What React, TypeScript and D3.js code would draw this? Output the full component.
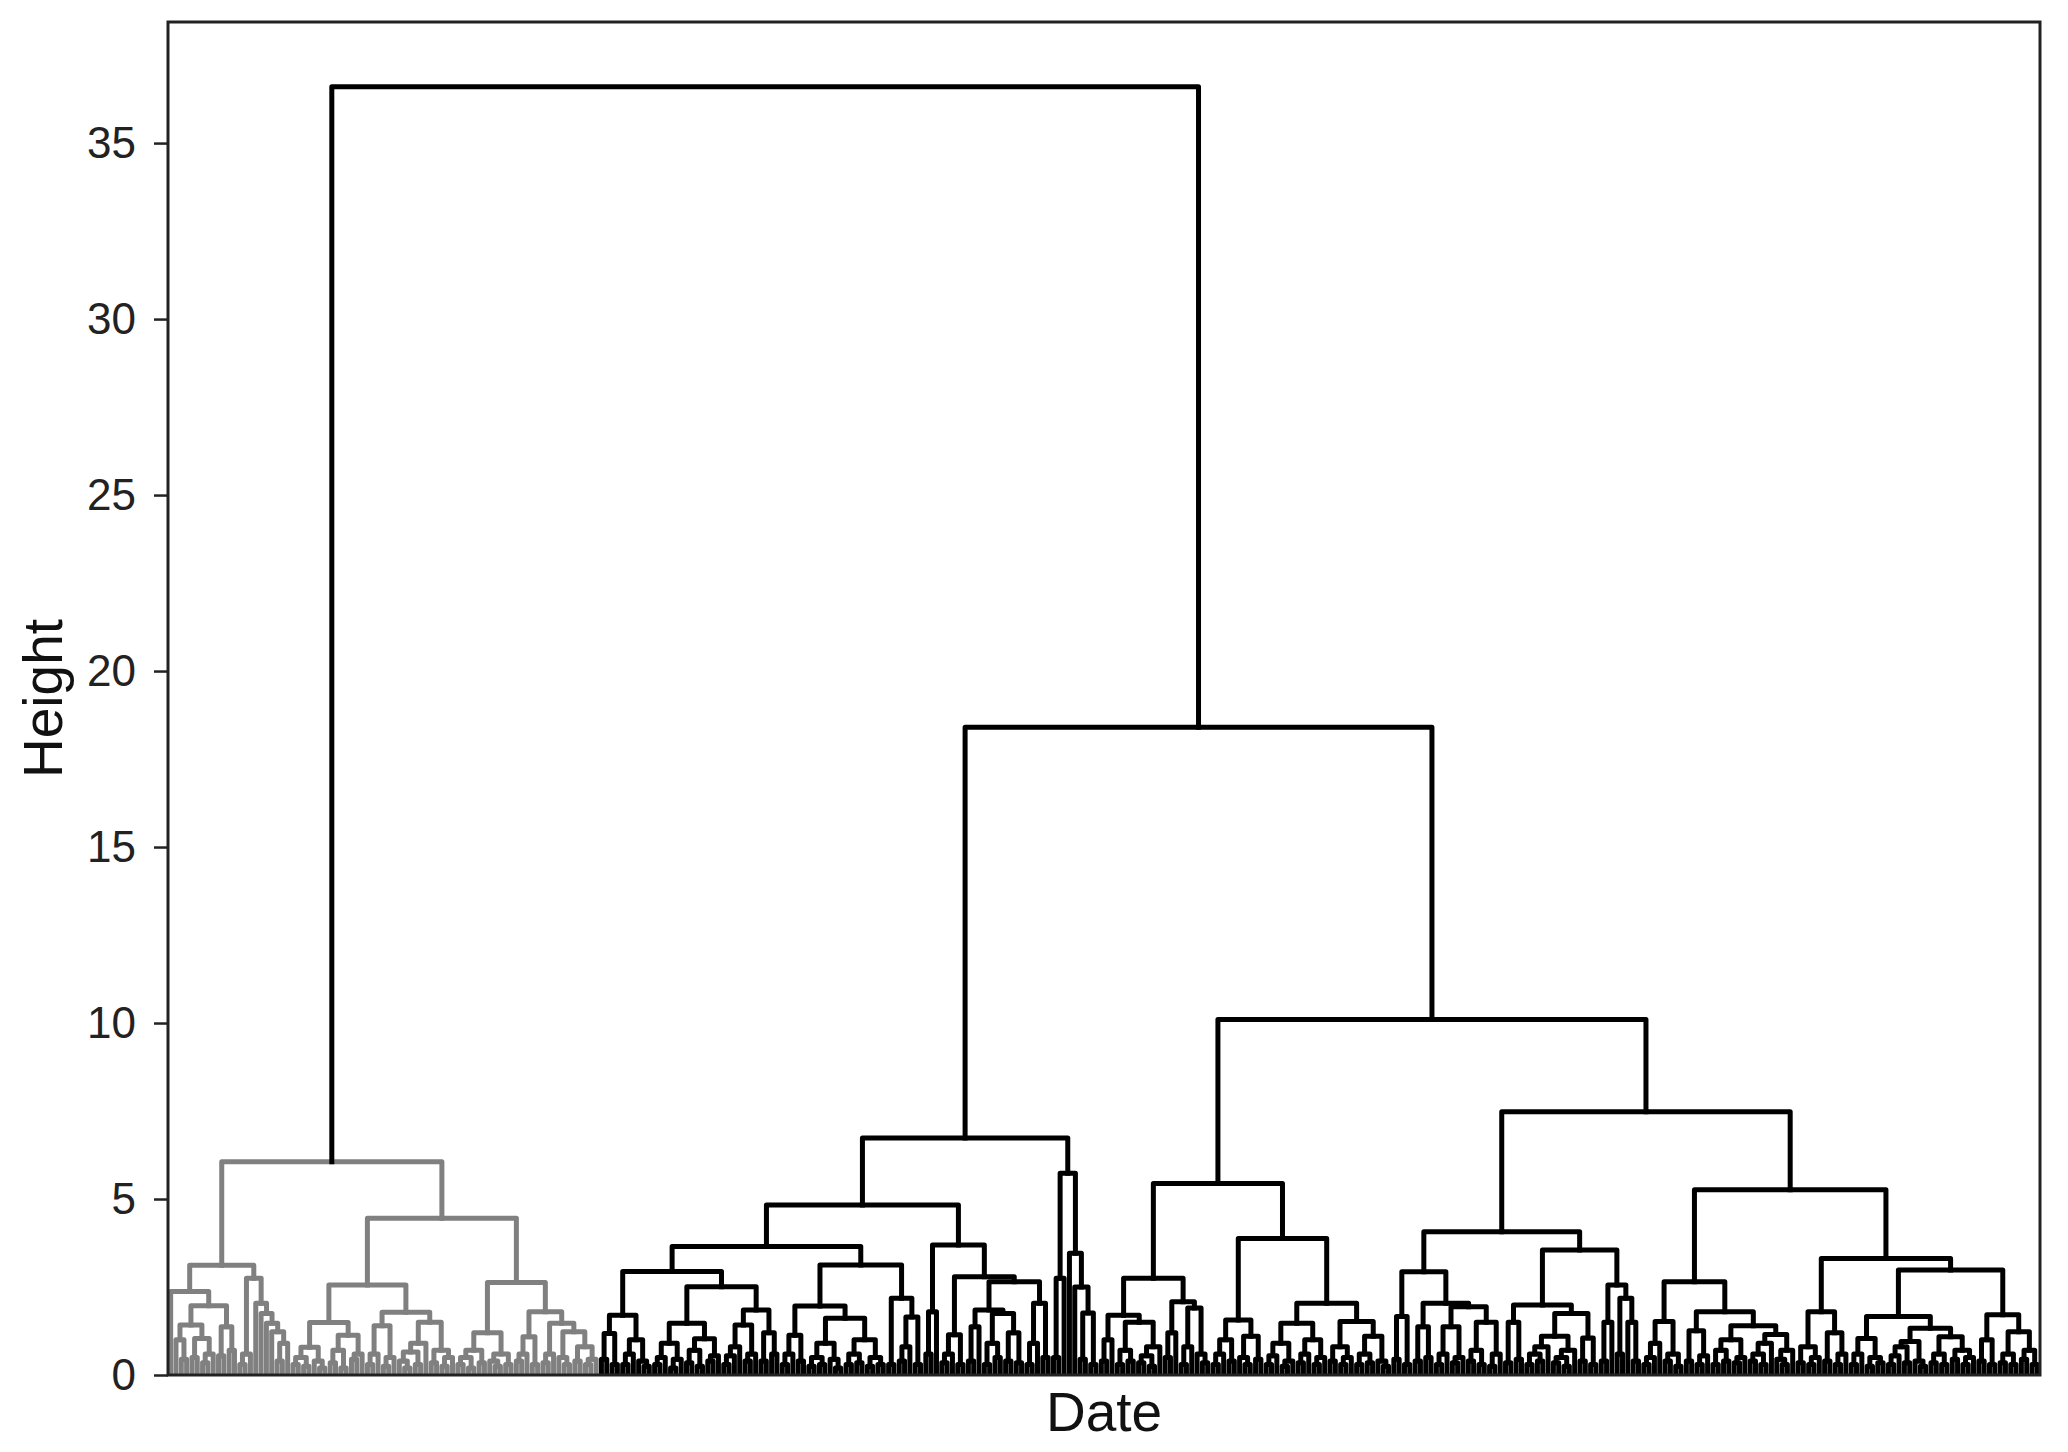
import React, { useEffect, useRef } from "react";
import * as d3 from "d3";

// merge height between each pair of neighbouring leaves, read left to right
const grayA = [2.37, 1.0, 0.45, 1.42, 0.5, 1.04, 0.35, 0.6, 1.97, 0.55, 1.37, 0.7, 3.12, 0.3, 0.6, 2.75, 2.04, 1.75, 1.47, 1.23, 0.4, 0.9];
const grayB = [0.3, 0.5, 0.25, 0.79, 0.4, 0.2, 1.49, 0.35, 0.7, 0.2, 1.13, 0.45, 0.6, 2.56, 0.3, 0.6, 1.4, 0.25, 0.5, 1.78, 0.4, 0.2, 0.65, 0.3, 0.9, 1.5, 0.35, 0.7, 0.25, 0.5];
const grayC = [0.3, 0.5, 0.2, 0.7, 0.35, 1.2, 0.4, 0.25, 0.6, 0.3, 2.63, 0.4, 0.6, 1.09, 0.3, 1.8, 0.35, 0.6, 1.47, 0.5, 0.3, 1.23, 0.4, 0.8, 0.3, 0.45];
const blackA = [
  0.45, 1.18, 0.3, 1.7, 0.3, 0.6, 1.0, 0.4, 0.25, 2.94, 0.3, 0.5, 0.9, 0.2, 0.45, 1.47, 0.35, 0.7, 0.25, 1.03, 0.4, 0.55,
  2.51, 0.3, 0.55, 0.8, 1.42, 0.4, 0.6, 1.85, 0.4, 1.2, 0.6, 3.65, 0.3, 0.6, 1.13, 0.4, 1.96, 0.25, 0.5, 0.3, 0.9, 0.45,
  0.2, 1.61, 0.3, 0.6, 0.35, 1.0, 0.25, 0.5, 0.3, 3.125, 0.3, 2.18, 0.4, 0.8, 1.65, 0.3,
];
const blackB = [0.6, 1.8, 3.69, 0.35, 0.6, 1.14, 0.3, 2.79, 0.4, 1.37, 1.85, 0.3, 0.9, 0.5, 1.75, 0.4, 1.2, 0.35, 2.65, 0.3, 0.9, 2.04, 0.5];
const blackSpike = [0.5, 2.75, 5.73, 3.46, 2.5, 0.45, 1.76, 0.3];
const blackC = [0.4, 1.0, 1.7, 0.3, 0.7, 0.4, 1.5, 0.35, 0.55, 0.25, 0.8, 2.75, 0.5, 1.2, 2.08, 0.3, 0.8, 1.9, 0.6, 0.35];
const blackD = [
  0.3, 0.6, 1.0, 0.4, 1.56, 0.5, 0.3, 1.1, 0.45, 3.88, 0.3, 0.55, 0.9, 0.25, 0.4, 1.47, 0.35, 0.6, 1.0, 0.3, 0.5, 2.04,
  0.4, 0.8, 0.3, 0.5, 1.52, 0.3, 0.6, 0.35, 1.1, 0.4, 0.25,
];
const blackE = [
  0.45, 1.66, 0.3, 2.93, 0.4, 1.37, 0.5, 2.04, 0.3, 0.6, 1.37, 0.35, 0.5, 1.94, 0.4, 0.7, 0.3, 1.5, 0.25, 0.6, 4.07,
  0.35, 1.5, 0.45, 1.99, 0.3, 0.6, 0.4, 0.8, 1.1, 0.35, 0.5, 0.25, 0.7, 1.75, 0.4, 1.05, 0.3, 3.55, 0.4, 1.5, 2.56, 0.6,
  2.18, 1.5, 0.4,
];
const blackF = [0.3, 0.5, 0.9, 1.52, 0.4, 0.6, 0.25, 2.65, 0.4, 1.26, 0.3, 0.55, 1.8, 0.3, 0.7, 0.4, 1.0, 0.35, 0.5, 1.4, 0.4, 0.6, 0.3, 0.9, 1.15, 0.45, 0.3, 0.7];
const blackG = [
  0.35, 0.8, 0.3, 0.5, 1.8, 0.4, 1.2, 0.3, 0.6, 3.31, 0.3, 0.6, 1.04, 0.25, 0.5, 0.35, 1.66, 0.3, 0.55, 0.8, 0.35, 0.95,
  0.4, 0.25, 1.33, 0.35, 0.6, 0.3, 1.09, 0.45, 0.7, 0.3, 0.5, 2.98, 0.4, 1.0, 0.3, 1.71, 0.35, 0.6, 0.3, 1.23, 0.45, 0.7, 0.3,
];

const segments = [grayA, grayB, grayC, blackA, blackB, blackSpike, blackC, blackD, blackE, blackF, blackG];
// heights joining one segment to the next
const joins = [6.06, 4.45, 36.6, 4.83, 6.73, 18.4, 5.44, 10.1, 7.48, 5.26];
const graySegments = 3;
const yTicks = [0, 5, 10, 15, 20, 25, 30, 35];

type Node = { lo: number; hi: number; h: number; x: number; left?: Node; right?: Node };

const App = () => {
  const ref = useRef<SVGSVGElement>(null);

  useEffect(() => {
    document.body.style.margin = "0";
    const svg = d3.select(ref.current);
    svg.selectAll("*").remove();

    const gaps: number[] = [];
    segments.forEach((s, i) => {
      gaps.push(...s);
      if (i < joins.length) gaps.push(joins[i]);
    });
    const n = gaps.length + 1;
    let grayLeaves = 0;
    for (let i = 0; i < graySegments; i++) grayLeaves += segments[i].length + 1;

    const left = 168, right = 2040, top = 22, bottom = 1375;
    const x = d3.scaleLinear().domain([0, n]).range([left, right]);
    const y = d3.scaleLinear().domain([0, 38.44]).range([bottom, top]);

    const links: { d: string; gray: boolean }[] = [];
    const build = (lo: number, hi: number): Node => {
      if (lo === hi) return { lo, hi, h: 0, x: x(lo + 0.5) };
      let k = lo;
      for (let i = lo; i < hi; i++) if (gaps[i] > gaps[k]) k = i;
      const l = build(lo, k);
      const r = build(k + 1, hi);
      const node = { lo, hi, h: gaps[k], x: (l.x + r.x) / 2, left: l, right: r };
      links.push({
        d: `M${l.x},${y(l.h)}V${y(node.h)}H${r.x}V${y(r.h)}`,
        gray: hi < grayLeaves,
      });
      return node;
    };
    build(0, n - 1);

    svg
      .append("defs")
      .append("clipPath")
      .attr("id", "plot")
      .append("rect")
      .attr("x", left)
      .attr("y", top)
      .attr("width", right - left)
      .attr("height", bottom - top);

    svg
      .append("g")
      .attr("clip-path", "url(#plot)")
      .selectAll("path")
      .data(links)
      .enter()
      .append("path")
      .attr("d", (d) => d.d)
      .attr("fill", "none")
      .attr("stroke", (d) => (d.gray ? "#808080" : "#000"))
      .attr("stroke-width", 5)
      .attr("stroke-linejoin", "round")
      .attr("stroke-linecap", "square");

    const axis = svg
      .append("g")
      .attr("transform", `translate(${left},0)`)
      .call(d3.axisLeft(y).tickValues(yTicks).tickSize(14).tickPadding(18));
    axis.select(".domain").remove();
    axis.selectAll("line").attr("stroke", "#222").attr("stroke-width", 2.5);
    axis
      .selectAll("text")
      .attr("fill", "#222")
      .style("font-size", "44px")
      .style("font-family", "'Liberation Sans', Arial, sans-serif");

    svg
      .append("rect")
      .attr("x", left)
      .attr("y", top)
      .attr("width", right - left)
      .attr("height", bottom - top)
      .attr("fill", "none")
      .attr("stroke", "#222")
      .attr("stroke-width", 3);

    svg
      .append("text")
      .attr("x", (left + right) / 2)
      .attr("y", 1431)
      .attr("text-anchor", "middle")
      .attr("fill", "#111")
      .style("font-size", "55px")
      .style("font-family", "'Liberation Sans', Arial, sans-serif")
      .text("Date");

    svg
      .append("text")
      .attr("transform", `translate(62,${(top + bottom) / 2}) rotate(-90)`)
      .attr("text-anchor", "middle")
      .attr("fill", "#111")
      .style("font-size", "55px")
      .style("font-family", "'Liberation Sans', Arial, sans-serif")
      .text("Height");
  }, []);

  return <svg ref={ref} width={2068} height={1452} style={{ display: "block", background: "#fff" }} />;
};

export default App;
